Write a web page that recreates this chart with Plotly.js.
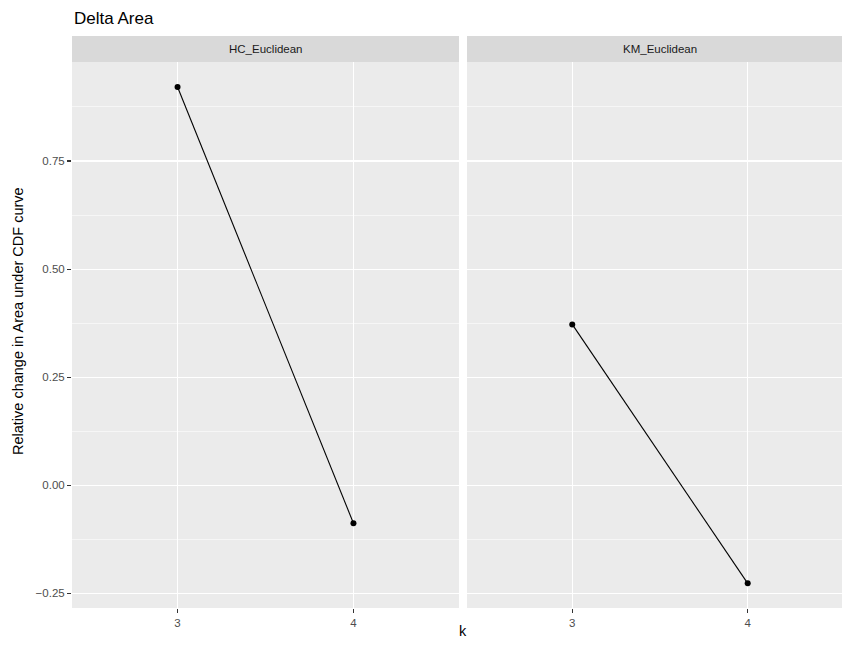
<!DOCTYPE html>
<html>
<head>
<meta charset="utf-8">
<script src="https://cdn.plot.ly/plotly-3.0.1.min.js"></script>
<style>html,body{margin:0;padding:0;background:#fff;}</style>
</head>
<body>
<div id="chart" style="width:842px;height:646px;"></div>
<script>
const k = [3, 4];
const hcValues = [0.921, -0.088];
const kmValues = [0.372, -0.227];
const panelNames = ["HC_Euclidean", "KM_Euclidean"];
const yTickVals = [-0.25, 0, 0.25, 0.5, 0.75];
const yTickText = ["\u22120.25", "0.00", "0.25", "0.50", "0.75"];
const yMinorVals = [-0.125, 0.125, 0.375, 0.625, 0.875];
const xTickVals = [3, 4];

const W = 842, H = 646;
const L = 72, R = 842, T = 36, B = 608;
const PW = R - L, PH = B - T;
const px = v => (v - L) / PW;
const py = v => (B - v) / PH;

const FONT = "Liberation Sans, Arial, sans-serif";
const lineStyle = {color: "#000", width: 1.1};
const markerStyle = {color: "#000", size: 6};

const traces = [
  {x: k, y: hcValues, xaxis: "x", yaxis: "y", mode: "lines+markers", line: lineStyle, marker: markerStyle, hoverinfo: "skip"},
  {x: k, y: kmValues, xaxis: "x2", yaxis: "y", mode: "lines+markers", line: lineStyle, marker: markerStyle, hoverinfo: "skip"}
];

const xCommon = {
  tickmode: "array", tickvals: xTickVals, ticktext: xTickVals.map(String),
  showgrid: true, gridcolor: "#fff", gridwidth: 1.1, zeroline: false,
  ticks: "outside", ticklen: 4, tickwidth: 1.1, tickcolor: "#333",
  tickfont: {family: FONT, size: 11.5, color: "#4D4D4D"},
  showline: false, anchor: "y", fixedrange: true
};

const layout = {
  width: W, height: H,
  margin: {l: L, r: W - R, t: T, b: H - B, pad: 0},
  paper_bgcolor: "#fff", plot_bgcolor: "#EBEBEB",
  showlegend: false,
  font: {family: FONT},
  xaxis: Object.assign({}, xCommon, {domain: [0, px(459)], range: [2.4, 4.6]}),
  xaxis2: Object.assign({}, xCommon, {domain: [px(467), 1], range: [2.4, 4.6 - (853 - 842) / 176]}),
  yaxis: {
    domain: [0, py(62)], range: [-0.284, 0.979],
    tickmode: "array", tickvals: yTickVals, ticktext: yTickText,
    showgrid: true, gridcolor: "#fff", gridwidth: 1.1, zeroline: false,
    ticks: "outside", ticklen: 4, tickwidth: 1.1, tickcolor: "#333",
    tickfont: {family: FONT, size: 11.5, color: "#4D4D4D"},
    minor: {tickmode: "array", tickvals: yMinorVals, showgrid: true, gridcolor: "#fff", gridwidth: 0.55, ticks: ""},
    fixedrange: true
  },
  shapes: [
    {type: "rect", xref: "paper", yref: "paper", x0: 0, x1: px(459), y0: py(62), y1: 1, fillcolor: "#D9D9D9", line: {width: 0}, layer: "below"},
    {type: "rect", xref: "paper", yref: "paper", x0: px(467), x1: 1, y0: py(62), y1: 1, fillcolor: "#D9D9D9", line: {width: 0}, layer: "below"}
  ],
  annotations: [
    {text: panelNames[0], xref: "paper", yref: "paper", x: px(265.5), y: py(49), xanchor: "center", yanchor: "middle", showarrow: false, font: {family: FONT, size: 11.5, color: "#1A1A1A"}},
    {text: panelNames[1], xref: "paper", yref: "paper", x: px(660), y: py(49), xanchor: "center", yanchor: "middle", showarrow: false, font: {family: FONT, size: 11.5, color: "#1A1A1A"}},
    {text: "Delta Area", xref: "paper", yref: "paper", x: px(72), y: py(18), xanchor: "left", yanchor: "middle", showarrow: false, font: {family: FONT, size: 17, color: "#000"}},
    {text: "k", xref: "paper", yref: "paper", x: px(463), y: py(631), xanchor: "center", yanchor: "middle", showarrow: false, font: {family: FONT, size: 14.5, color: "#000"}},
    {text: "Relative change in Area under CDF curve", xref: "paper", yref: "paper", x: px(18), y: py(321), xanchor: "center", yanchor: "middle", textangle: -90, showarrow: false, font: {family: FONT, size: 14.5, color: "#000"}}
  ]
};

Plotly.newPlot("chart", traces, layout, {displayModeBar: false, staticPlot: true});
</script>
</body>
</html>
